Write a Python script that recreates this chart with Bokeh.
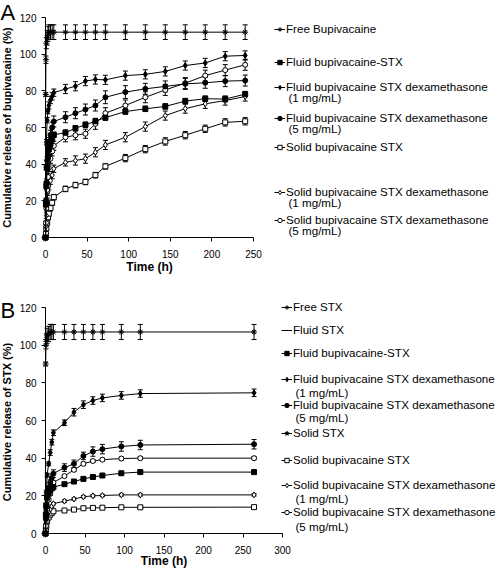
from bokeh.plotting import figure
from bokeh.models import (ColumnDataSource, Whisker, TeeHead, Legend, LegendItem,
                          Label, FixedTicker, Range1d)
from bokeh.layouts import column
from bokeh.embed import file_html
from bokeh.resources import INLINE

FONT = "Liberation Sans"
NAN = float("nan")

# ---------------- Panel A data (bupivacaine release, %) ----------------
time_A = [0, 0.5, 1, 2, 3, 4, 6, 8, 10, 24, 36, 48, 60, 72, 96, 120, 144, 168, 192, 216, 240]
time_A_free = [0.25, 0.5, 1, 2, 3, 4, 6, 8, 10, 24, 36, 48, 60, 72, 96, 120, 144, 168, 192, 216, 240]

free_bupi_A = [78, 97, 106, 109, 111, 112, 112, 112, 112, 112, 112, 112, 112, 112, 112, 112, 112, 112, 112, 112, 112]
free_bupi_A_err = [1, 2, 3, 4, 4, 4, 4, 4, 4, 4, 4, 4, 4, 4, 4, 4, 4, 4, 4, 4, 4]

fluid_bupi_A = [0, 18, 28, 38, 44, 48, 51, 54, 56, 57.2, 59.6, 61.5, 63.4, 65.4, 68.7, 70.2, 71.5, 74.4, 75.7, 75.5, 78.2]
fluid_bupi_A_err = [0, 1, 1, 1, 1.5, 1.5, 1.5, 1.5, 1.5, 1.5, 1.5, 1.5, 1.5, 1.5, 1.5, 1.5, 1.5, 1.5, 1.5, 1.5, 1.5]

fluid_dex1_A = [0, 38, 52, 64, 69, 72, 75, 77, 79, 81, 82.5, 85.3, 86.2, 86, 88.3, 89, 90.6, 93.8, 95.2, 98.9, 99.3]
fluid_dex1_A_err = [0, 1, 1.5, 1.5, 1.5, 2, 2, 2, 2, 2.5, 2.5, 2.5, 2.5, 2.5, 2.5, 2.5, 2.5, 2.5, 2.5, 2.5, 2.5]

fluid_dex5_A = [0, 20, 30, 42, 48, 52, 56, 60, 63.3, 65.6, 67.8, 69.8, 72, 76.5, 79.3, 81.1, 82.4, 83.8, 84.4, 85.3, 85.6]
fluid_dex5_A_err = [0, 1.5, 2, 2, 2, 2.5, 2.5, 3, 3, 3, 3, 3, 3, 3.5, 3.5, 3, 3, 3, 3, 3, 3]

solid_bupi_A = [0, 2, 5, 8, 11, 13, 16, 19, 22, 26.5, 28.6, 30.3, 34, 38.8, 43.3, 48.2, 52.4, 55.8, 59.3, 62.8, 63.4]
solid_bupi_A_err = [0, 1, 1, 1, 1, 1.5, 1.5, 1.5, 1.5, 1.5, 1.5, 1.5, 1.5, 1.5, 2, 2, 2, 2, 2, 2, 2]

solid_dex1_A = [0, 6, 12, 20, 25, 28, 31, 34, 37.5, 41, 42, 43, 46.5, 50.5, 54.7, 60.5, 66.5, 70.3, 72.9, 74.7, 76.9]
solid_dex1_A_err = [0, 1, 1.5, 1.5, 2, 2, 2, 2, 2, 2, 2.5, 2.5, 2.5, 2.5, 2.5, 2.5, 2.5, 2.5, 2.5, 2.5, 2.5]

solid_dex5_A = [0, 8, 16, 26, 33, 38, 43, 47, 50, 54.7, 55.8, 56.6, 62, 67.8, 72, 76.5, 80.5, 84.2, 88.3, 91.3, 94.2]
solid_dex5_A_err = [0, 1, 1.5, 2, 2, 2, 2.5, 2.5, 2.5, 2.5, 2.5, 2.5, 3, 3, 3, 3, 3, 3, 3, 3, 3]

# ---------------- Panel B data (STX release, %) ----------------
time_B = [0, 0.5, 1, 2, 4, 6, 8, 10, 24, 36, 48, 60, 72, 96, 120, 264]
time_B_free = [0.25, 0.5, 1, 2, 4, 6, 8, 10, 24, 36, 48, 60, 72, 96, 120, 264]

free_stx_B = [90, 100, 103, 105, 106, 107, 107, 107, 107, 107, 107, 107, 107, 107, 107, 107]
free_stx_B_err = [1, 2, 3, 4, 4, 4, 4, 4, 4, 4, 4, 4, 4, 4, 4, 4]

# Fluid STX and Solid STX appear only in the legend (no visible points in the plot)
fluid_stx_B = [NAN]
solid_stx_B = [NAN]

fluid_bupi_B = [0, 10, 15, 19, 21.5, 23, 24, 24.6, 26.2, 27.6, 29, 30, 30.8, 32, 32.6, 32.6]
fluid_bupi_B_err = [0, 0.5, 0.5, 0.8, 0.8, 0.8, 0.8, 0.8, 0.8, 0.8, 0.8, 0.8, 0.8, 0.8, 0.8, 0.8]

fluid_dex1_B = [0, 12, 22, 31, 37, 43, 48.5, 53.5, 58.8, 64.4, 68.4, 70.6, 72, 73.3, 74.3, 74.7]
fluid_dex1_B_err = [0, 1, 1, 1, 1, 1.5, 1.5, 1.5, 1.5, 2, 2, 2, 2, 2, 2, 2]

fluid_dex5_B = [0, 8, 14, 20, 24, 27, 29.5, 31.8, 35, 37, 41.2, 43.5, 44.8, 46.2, 47, 47.4]
fluid_dex5_B_err = [0, 1, 1, 1.5, 1.5, 1.5, 2, 2, 2, 2, 2, 2.5, 2.5, 2.5, 2.5, 2.5]

solid_bupi_B = [0, 2, 4, 6.5, 8.5, 10, 11, 11.8, 12.2, 12.7, 13.4, 13.6, 13.7, 13.9, 13.9, 14]
solid_bupi_B_err = [0, 0.5, 0.5, 0.5, 0.5, 0.5, 0.5, 0.5, 0.5, 0.5, 0.5, 0.5, 0.5, 0.5, 0.5, 0.5]

solid_dex1_B = [0, 3, 6, 9, 11.5, 13, 14.5, 15.8, 17.2, 18.3, 19.5, 20, 20.2, 20.5, 20.5, 20.5]
solid_dex1_B_err = [0, 0.5, 0.5, 0.5, 0.6, 0.6, 0.6, 0.6, 0.6, 0.6, 0.6, 0.6, 0.6, 0.6, 0.6, 0.6]

solid_dex5_B = [0, 4, 8, 13, 18, 21, 24, 27, 30.5, 33.8, 37, 38.5, 39.2, 39.8, 40, 40]
solid_dex5_B_err = [0, 0.5, 0.5, 0.8, 0.8, 0.8, 0.8, 0.8, 0.8, 0.8, 0.8, 0.8, 0.8, 0.8, 0.8, 0.8]

x_ticks_A = [0, 50, 100, 150, 200, 250]
x_ticks_B = [0, 50, 100, 150, 200, 250, 300]
y_ticks = [0, 20, 40, 60, 80, 100, 120]

LBL_A = "Cumulative release of bupivacaine (%)"
LBL_B = "Cumulative  release of STX (%)"

# ---------------- layout geometry (canvas pixels) ----------------
W = 496
GEOM_A = dict(H=285, X0=45, X1=253, Y_TOP=17, Y_BOT=237, XMAX=250)
GEOM_B = dict(H=283, X0=45, X1=282, Y_TOP=22, Y_BOT=248, XMAX=300)
YMAX = 120
LEG_FONT = "11.6px"


def make_fig(g, xticks, ylabel, std_x, als_x):
    kx = g["XMAX"] / (g["X1"] - g["X0"])
    ky = YMAX / (g["Y_BOT"] - g["Y_TOP"])
    xr = Range1d(-g["X0"] * kx, g["XMAX"] + (W - g["X1"]) * kx)
    yr = Range1d(-(g["H"] - g["Y_BOT"]) * ky, YMAX + g["Y_TOP"] * ky)
    p = figure(width=W, height=g["H"], x_range=xr, y_range=yr,
               output_backend="svg", toolbar_location=None,
               min_border_left=0, min_border_right=0,
               min_border_top=0, min_border_bottom=0)
    p.outline_line_color = None
    p.grid.visible = False
    p.background_fill_color = "white"
    p.xaxis.ticker = FixedTicker(ticks=xticks)
    p.yaxis.ticker = FixedTicker(ticks=y_ticks)
    p.xaxis.fixed_location = 0
    p.yaxis.fixed_location = 0
    p.xaxis.bounds = (0, g["XMAX"])
    p.yaxis.bounds = (0, YMAX)
    for ax in (p.xaxis[0], p.yaxis[0]):
        ax.axis_line_color = "black"
        ax.axis_line_width = 1
        ax.major_tick_line_color = "black"
        ax.major_tick_in = 0
        ax.major_tick_out = 4
        ax.minor_tick_line_color = None
        ax.major_label_text_font = FONT
        ax.major_label_text_font_size = "10px"
        ax.major_label_text_color = "black"
        ax.axis_label_text_font = FONT
        ax.axis_label_text_font_style = "bold"
        ax.axis_label_text_color = "black"
    p.xaxis.axis_label = "Time (h)"
    p.xaxis.axis_label_text_font_size = "12px"
    p.xaxis.major_label_standoff = std_x
    p.xaxis.axis_label_standoff = als_x
    p.yaxis.axis_label = ylabel
    p.yaxis.axis_label_text_font_size = "11px"
    p.yaxis.major_label_standoff = 5
    p.yaxis.axis_label_standoff = 4
    return p


def add_series(p, t, y, err, marker, fill, size=5):
    if err is None:
        err = [0] * len(y)
    src = ColumnDataSource(dict(x=t, y=y,
                                lo=[a - e for a, e in zip(y, err)],
                                hi=[a + e for a, e in zip(y, err)]))
    if any(e > 0 for e in err):
        p.add_layout(Whisker(source=src, base="x", lower="lo", upper="hi",
                             line_color="black", line_width=1,
                             upper_head=TeeHead(size=5, line_color="black", line_width=1),
                             lower_head=TeeHead(size=5, line_color="black", line_width=1)))
    lr = p.line("x", "y", source=src, line_color="black", line_width=1)
    sr = p.scatter("x", "y", source=src, marker=marker, size=size,
                   line_color="black", fill_color=fill, line_width=1)
    return [lr, sr]


def add_entry(p, renderers, lines, y_img, canvas_bottom_img, x_rel):
    fy = canvas_bottom_img - y_img[0]
    leg = Legend(items=[LegendItem(label=lines[0], renderers=renderers)],
                 location=(x_rel, fy - 8), padding=0, margin=0, spacing=0,
                 glyph_width=11, glyph_height=12, label_height=12, label_standoff=1,
                 label_text_font=FONT, label_text_font_size=LEG_FONT,
                 label_text_color="black", border_line_color=None,
                 background_fill_alpha=0)
    p.add_layout(leg)
    if len(lines) > 1:
        p.add_layout(Label(x=x_rel + 14, y=canvas_bottom_img - y_img[1],
                           x_units="screen", y_units="screen", text=lines[1],
                           text_font=FONT, text_font_size=LEG_FONT,
                           text_baseline="middle", text_align="left",
                           text_color="black"))


DEX = "Fluid bupivacaine STX dexamethasone"
SDEX = "Solid bupivacaine STX dexamethasone"

# ---------------- Panel A ----------------
pA = make_fig(GEOM_A, x_ticks_A, LBL_A, 8, -1)
rA = {}
rA["free"] = add_series(pA, time_A_free, free_bupi_A, free_bupi_A_err, "asterisk", "black", 6)
rA["sb"] = add_series(pA, time_A, solid_bupi_A, solid_bupi_A_err, "square", "white", 5)
rA["sd1"] = add_series(pA, time_A, solid_dex1_A, solid_dex1_A_err, "diamond", "white", 6)
rA["sd5"] = add_series(pA, time_A, solid_dex5_A, solid_dex5_A_err, "circle", "white", 5)
rA["fb"] = add_series(pA, time_A, fluid_bupi_A, fluid_bupi_A_err, "square", "black", 5)
rA["fd5"] = add_series(pA, time_A, fluid_dex5_A, fluid_dex5_A_err, "circle", "black", 5)
rA["fd1"] = add_series(pA, time_A, fluid_dex1_A, fluid_dex1_A_err, "diamond", "black", 6)

CB_A = GEOM_A["H"]          # image y of panel A canvas bottom
entries_A = [
    ("free", ["Free Bupivacaine"], [27]),
    ("fb", ["Fluid bupivacaine-STX"], [60]),
    ("fd1", [DEX, "(1 mg/mL)"], [85, 97]),
    ("fd5", [DEX, "(5 mg/mL)"], [116, 128]),
    ("sb", ["Solid bupivacaine STX"], [145]),
    ("sd1", [SDEX, "(1 mg/mL)"], [190, 202]),
    ("sd5", [SDEX, "(5 mg/mL)"], [218, 230]),
]
for key, lines, ys in entries_A:
    add_entry(pA, rA[key], lines, ys, CB_A, 274)

pA.add_layout(Label(x=0, y=GEOM_A["H"] + 1, x_units="screen", y_units="screen", text="A",
                    text_font=FONT, text_font_size="22px", text_baseline="top",
                    text_align="left", text_color="black"))

# ---------------- Panel B ----------------
pB = make_fig(GEOM_B, x_ticks_B, LBL_B, 8, -3)
rB = {}
rB["free"] = add_series(pB, time_B_free, free_stx_B, free_stx_B_err, "asterisk", "black", 6)
rB["fstx"] = add_series(pB, fluid_stx_B, fluid_stx_B, None, "dash", "black", 7)
rB["sstx"] = add_series(pB, solid_stx_B, solid_stx_B, None, "star", "black", 7)
rB["sb"] = add_series(pB, time_B, solid_bupi_B, solid_bupi_B_err, "square", "white", 5)
rB["sd1"] = add_series(pB, time_B, solid_dex1_B, solid_dex1_B_err, "diamond", "white", 6)
rB["sd5"] = add_series(pB, time_B, solid_dex5_B, solid_dex5_B_err, "circle", "white", 5)
rB["fb"] = add_series(pB, time_B, fluid_bupi_B, fluid_bupi_B_err, "square", "black", 5)
rB["fd5"] = add_series(pB, time_B, fluid_dex5_B, fluid_dex5_B_err, "circle", "black", 5)
rB["fd1"] = add_series(pB, time_B, fluid_dex1_B, fluid_dex1_B_err, "diamond", "black", 6)

CB_B = GEOM_A["H"] + GEOM_B["H"]   # image y of panel B canvas bottom
entries_B = [
    ("free", ["Free STX"], [305]),
    ("fstx", ["Fluid STX"], [328]),
    ("fb", ["Fluid bupivacaine-STX"], [351]),
    ("fd1", [DEX, "(1 mg/mL)"], [377, 392]),
    ("fd5", [DEX, "(5 mg/mL)"], [403, 417]),
    ("sstx", ["Solid STX"], [431]),
    ("sb", ["Solid bupivacaine STX"], [458]),
    ("sd1", [SDEX, "(1 mg/mL)"], [483, 498]),
    ("sd5", [SDEX, "(5 mg/mL)"], [510, 526]),
]
for key, lines, ys in entries_B:
    add_entry(pB, rB[key], lines, ys, CB_B, 281)

pB.add_layout(Label(x=0, y=GEOM_B["H"] - 12, x_units="screen", y_units="screen", text="B",
                    text_font=FONT, text_font_size="22px", text_baseline="top",
                    text_align="left", text_color="black"))

layout = column(pA, pB)
open("out.html", "w").write(file_html(layout, INLINE))
